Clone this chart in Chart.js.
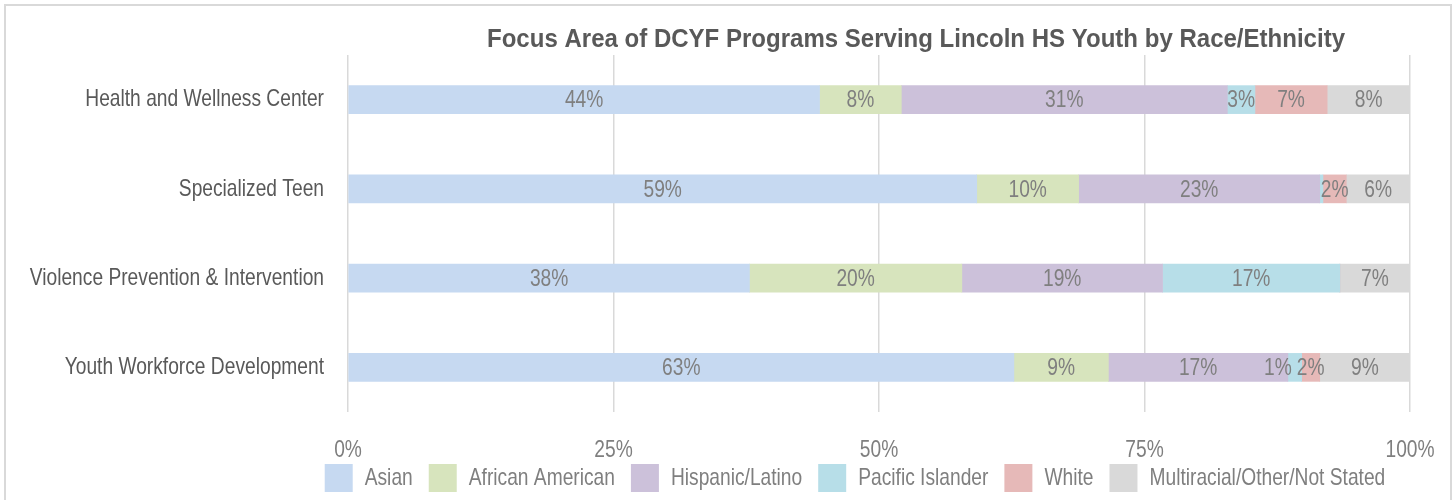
<!DOCTYPE html>
<html>
<head>
<meta charset="utf-8">
<script src="https://cdn.jsdelivr.net/npm/chart.js@4.4.1/dist/chart.umd.min.js"></script>
<style>
  body { margin: 0; background: #fff; overflow: hidden; }
  #frame { position: absolute; left: 4px; top: 4px; width: 1448px; height: 600px; border: 2px solid #d9d9d9; box-sizing: border-box; }
  #chart { position: absolute; left: 0; top: 0; }
</style>
</head>
<body>
<div id="frame"></div>
<canvas id="chart" width="1453" height="520"></canvas>
<script>
// Chart data
const chartTitle = 'Focus Area of DCYF Programs Serving Lincoln HS Youth by Race/Ethnicity';
const categories = ['Health and Wellness Center', 'Specialized Teen', 'Violence Prevention & Intervention', 'Youth Workforce Development'];
const seriesNames = ['Asian', 'African American', 'Hispanic/Latino', 'Pacific Islander', 'White', 'Multiracial/Other/Not Stated'];
const asian = [44.4, 59.2, 37.8, 62.7];
const africanAmerican = [7.7, 9.6, 20.0, 8.9];
const hispanicLatino = [30.7, 22.7, 18.9, 16.9];
const pacificIslander = [2.6, 0.3, 16.7, 1.3];
const white = [6.8, 2.2, 0, 1.7];
const multiracial = [7.8, 6.0, 6.6, 8.5];
const xTicks = [0, 25, 50, 75, 100];

const colors = ['#C6D9F1', '#D7E4BD', '#CCC1DA', '#B7DEE8', '#E6B9B8', '#D9D9D9'];
const FONT = "'Liberation Sans', sans-serif";

// No Arial Narrow here, so squeeze regular text horizontally to fake it
const NARROW = 0.8;
const origFill = CanvasRenderingContext2D.prototype.fillText;
const origMeasure = CanvasRenderingContext2D.prototype.measureText;
function isNarrow(ctx) {
    return ctx.font.indexOf('Liberation Sans') >= 0 && ctx.font.indexOf('bold') < 0;
}
CanvasRenderingContext2D.prototype.measureText = function (text) {
    const m = origMeasure.call(this, text);
    if (!isNarrow(this)) return m;
    return {
        width: m.width * NARROW,
        actualBoundingBoxLeft: m.actualBoundingBoxLeft * NARROW,
        actualBoundingBoxRight: m.actualBoundingBoxRight * NARROW,
        actualBoundingBoxAscent: m.actualBoundingBoxAscent,
        actualBoundingBoxDescent: m.actualBoundingBoxDescent,
        fontBoundingBoxAscent: m.fontBoundingBoxAscent,
        fontBoundingBoxDescent: m.fontBoundingBoxDescent
    };
};
CanvasRenderingContext2D.prototype.fillText = function (text, x, y, maxWidth) {
    if (!isNarrow(this)) {
        if (maxWidth === undefined) return origFill.call(this, text, x, y);
        return origFill.call(this, text, x, y, maxWidth);
    }
    let w = origMeasure.call(this, String(text)).width * NARROW;
    if (maxWidth !== undefined) w = Math.min(w, maxWidth);
    return origFill.call(this, text, x, y, w);
};

// Percent labels in the middle of each segment, nudged left when they collide
const segmentLabels = {
    id: 'segmentLabels',
    afterDatasetsDraw(chart) {
        const ctx = chart.ctx;
        ctx.save();
        ctx.font = '24px ' + FONT;
        ctx.fillStyle = '#7F7F7F';
        ctx.textAlign = 'center';
        ctx.textBaseline = 'middle';
        categories.forEach((cat, j) => {
            const row = [];
            chart.data.datasets.forEach((ds, i) => {
                const v = Math.round(ds.data[j]);
                if (v <= 0) return;
                const bar = chart.getDatasetMeta(i).data[j];
                const text = v + '%';
                row.push({ text, x: (bar.x + bar.base) / 2, y: bar.y, w: ctx.measureText(text).width });
            });
            for (let k = row.length - 2; k >= 0; k--) {
                const limit = row[k + 1].x - row[k + 1].w / 2 - 5;
                if (row[k].x + row[k].w / 2 > limit) row[k].x = limit - row[k].w / 2;
            }
            row.forEach(l => ctx.fillText(l.text, l.x, l.y + 1));
        });
        ctx.restore();
    }
};

// Title and legend sit off-centre in the original, move them after layout
const placement = {
    id: 'placement',
    afterLayout(chart) {
        const lg = chart.legend;
        const dx = 855 - (lg.left + lg.right) / 2;
        const dy = 448 - lg.top;
        lg.left += dx; lg.right += dx;
        lg.top += dy; lg.bottom += dy;
    },
    afterDraw(chart) {
        const ctx = chart.ctx;
        ctx.save();
        ctx.font = 'bold 26px ' + FONT;
        ctx.fillStyle = '#595959';
        ctx.textAlign = 'center';
        ctx.textBaseline = 'middle';
        ctx.fillText(chartTitle, 916, 40, 858);
        ctx.restore();
    }
};

const seriesData = [asian, africanAmerican, hispanicLatino, pacificIslander, white, multiracial];

new Chart(document.getElementById('chart'), {
    type: 'bar',
    data: {
        labels: categories,
        datasets: seriesNames.map((name, i) => ({
            label: name,
            data: seriesData[i],
            backgroundColor: colors[i],
            borderWidth: 0,
            barThickness: 28
        }))
    },
    options: {
        indexAxis: 'y',
        responsive: false,
        animation: false,
        layout: { padding: { left: 0, right: 43, top: 55, bottom: 4 } },
        scales: {
            x: {
                stacked: true,
                min: 0,
                max: 100,
                afterBuildTicks: (scale) => { scale.ticks = xTicks.map(v => ({ value: v })); },
                afterFit: (scale) => {
                    scale.height = 50;
                    scale.paddingLeft = 0;
                    scale.paddingRight = 0;
                },
                grid: { color: '#D9D9D9', lineWidth: 1.5, drawTicks: false },
                border: { display: false },
                ticks: {
                    padding: 24,
                    color: '#7F7F7F',
                    font: { family: FONT, size: 24 },
                    maxRotation: 0,
                    callback: v => v + '%'
                }
            },
            y: {
                stacked: true,
                afterFit: (scale) => { scale.width = 348; },
                grid: { display: false, drawTicks: false },
                border: { display: false },
                ticks: {
                    padding: 24,
                    color: '#595959',
                    font: { family: FONT, size: 24 }
                }
            }
        },
        plugins: {
            legend: {
                position: 'bottom',
                labels: {
                    boxWidth: 28,
                    boxHeight: 28,
                    padding: 16,
                    color: '#7F7F7F',
                    font: { family: FONT, size: 24 }
                }
            },
            tooltip: { enabled: false },
            title: { display: false }
        }
    },
    plugins: [segmentLabels, placement]
});
</script>
</body>
</html>
